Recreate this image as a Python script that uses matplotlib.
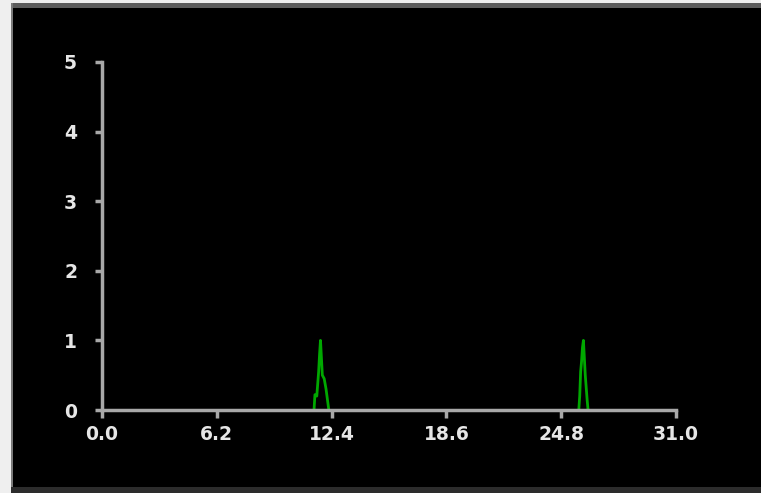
import matplotlib.pyplot as plt
from matplotlib.patches import Rectangle

# spike around 11.8
peak1_x = [11.45, 11.5, 11.6, 11.7, 11.75, 11.8, 11.85, 11.9, 12.0, 12.1, 12.2, 12.25]
peak1_y = [0.0, 0.22, 0.2, 0.55, 0.8, 1.0, 0.75, 0.5, 0.45, 0.3, 0.1, 0.0]

# spike around 26.0
peak2_x = [25.75, 25.8, 25.85, 25.9, 25.95, 26.0, 26.05, 26.1, 26.2, 26.25]
peak2_y = [0.0, 0.2, 0.55, 0.7, 0.9, 1.0, 0.75, 0.5, 0.15, 0.0]

x_ticks = [0.0, 6.2, 12.4, 18.6, 24.8, 31.0]
y_ticks = [0, 1, 2, 3, 4, 5]

W, H = 761, 493
fig = plt.figure(figsize=(W / 100, H / 100), dpi=100, facecolor="#efefef")


def px_rect(x0, y0, w, h, color):
    # pixel box, y counted from the top of the image
    fig.patches.append(Rectangle((x0 / W, 1 - (y0 + h) / H), w / W, h / H,
                                 transform=fig.transFigure, facecolor=color,
                                 edgecolor="none", zorder=-10))


px_rect(11, 3, W - 11, H - 3, "black")
px_rect(11, 3, W - 11, 5, "#5c5c5c")
px_rect(11, 3, 2, H - 3, "#7a7a7a")
px_rect(11, H - 6, W - 11, 6, "#2c2c2c")

ax = fig.add_axes([102 / W, 83 / H, 574 / W, 348 / H])
ax.patch.set_alpha(0)

ax.plot(peak1_x, peak1_y, color="#00a800", lw=2)
ax.plot(peak2_x, peak2_y, color="#00a800", lw=2)

ax.set_xlim(0, 31)
ax.set_ylim(0, 5)
ax.set_xticks(x_ticks)
ax.set_xticklabels([f"{v:.1f}" for v in x_ticks])
ax.set_yticks(y_ticks)
ax.set_yticklabels([str(v) for v in y_ticks])

for side in ["top", "right"]:
    ax.spines[side].set_visible(False)
for side in ["left", "bottom"]:
    ax.spines[side].set_color("#a8a8a8")
    ax.spines[side].set_linewidth(2.5)

ax.tick_params(axis="x", colors="#a8a8a8", direction="out", length=6, width=2.5,
               pad=5, labelcolor="#e6e6e6", labelsize=13.5)
ax.tick_params(axis="y", colors="#a8a8a8", direction="out", length=5, width=2.5,
               pad=13, labelcolor="#e6e6e6", labelsize=13.5)
for lab in ax.get_xticklabels() + ax.get_yticklabels():
    lab.set_fontweight("bold")

fig.savefig("out.png", dpi=100, facecolor=fig.get_facecolor())
